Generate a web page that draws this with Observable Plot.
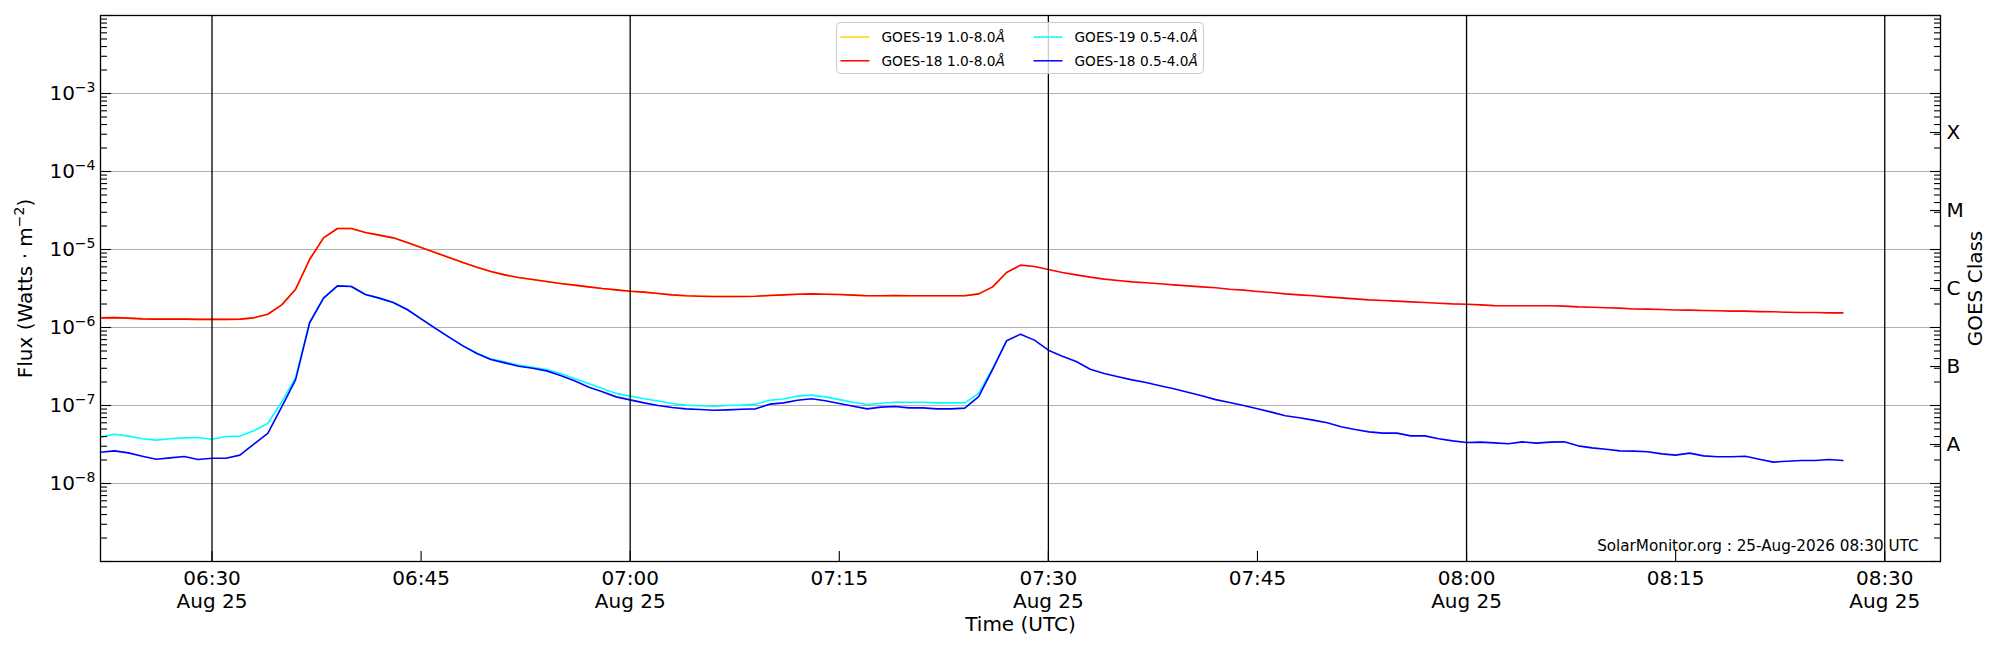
<!DOCTYPE html>
<html>
<head>
<meta charset="utf-8">
<script src="https://cdn.jsdelivr.net/npm/d3@7"></script>
<script src="https://cdn.jsdelivr.net/npm/@observablehq/plot@0.6"></script>
<style>
  html, body { margin: 0; padding: 0; background: #ffffff; }
  #chart { width: 2000px; height: 650px; }
</style>
</head>
<body>
<div id="chart"></div>
<script>
// ---------- data (1-minute samples starting 06:22 UTC, 25 Aug 2026) ----------
const startUTC = Date.UTC(2026, 7, 25, 6, 22);

const goes18Long = [
  1.33e-6, 1.34e-6, 1.32e-6, 1.29e-6, 1.28e-6, 1.28e-6, 1.28e-6, 1.27e-6, 1.27e-6, 1.27e-6,
  1.28e-6, 1.33e-6, 1.48e-6, 1.95e-6, 3.10e-6, 7.44e-6, 1.41e-5, 1.86e-5, 1.86e-5, 1.65e-5,
  1.53e-5, 1.41e-5, 1.23e-5, 1.06e-5, 9.16e-6, 7.89e-6, 6.81e-6, 5.94e-6, 5.22e-6, 4.73e-6,
  4.38e-6, 4.12e-6, 3.89e-6, 3.67e-6, 3.49e-6, 3.32e-6, 3.16e-6, 3.04e-6, 2.92e-6, 2.84e-6,
  2.73e-6, 2.62e-6, 2.55e-6, 2.52e-6, 2.50e-6, 2.50e-6, 2.50e-6, 2.52e-6, 2.57e-6, 2.62e-6,
  2.67e-6, 2.70e-6, 2.67e-6, 2.65e-6, 2.60e-6, 2.55e-6, 2.55e-6, 2.57e-6, 2.55e-6, 2.55e-6,
  2.55e-6, 2.55e-6, 2.55e-6, 2.70e-6, 3.32e-6, 5.07e-6, 6.30e-6, 6.05e-6, 5.54e-6, 5.07e-6,
  4.73e-6, 4.42e-6, 4.17e-6, 4.01e-6, 3.85e-6, 3.74e-6, 3.63e-6, 3.52e-6, 3.42e-6, 3.32e-6,
  3.23e-6, 3.10e-6, 3.01e-6, 2.90e-6, 2.81e-6, 2.70e-6, 2.62e-6, 2.55e-6, 2.47e-6, 2.40e-6,
  2.33e-6, 2.26e-6, 2.22e-6, 2.18e-6, 2.13e-6, 2.09e-6, 2.05e-6, 2.01e-6, 1.99e-6, 1.95e-6,
  1.91e-6, 1.90e-6, 1.90e-6, 1.90e-6, 1.90e-6, 1.88e-6, 1.84e-6, 1.82e-6, 1.79e-6, 1.77e-6,
  1.73e-6, 1.72e-6, 1.70e-6, 1.68e-6, 1.67e-6, 1.65e-6, 1.64e-6, 1.62e-6, 1.62e-6, 1.60e-6,
  1.59e-6, 1.57e-6, 1.56e-6, 1.56e-6, 1.54e-6, 1.54e-6
];

const goes18Short = [
  2.52e-8, 2.62e-8, 2.47e-8, 2.24e-8, 2.05e-8, 2.13e-8, 2.22e-8, 2.03e-8, 2.11e-8, 2.11e-8,
  2.31e-8, 3.19e-8, 4.38e-8, 9.62e-8, 2.15e-7, 1.15e-6, 2.38e-6, 3.42e-6, 3.36e-6, 2.65e-6,
  2.38e-6, 2.09e-6, 1.70e-6, 1.29e-6, 9.80e-7, 7.52e-7, 5.82e-7, 4.64e-7, 3.89e-7, 3.52e-7,
  3.19e-7, 3.01e-7, 2.78e-7, 2.43e-7, 2.07e-7, 1.73e-7, 1.50e-7, 1.29e-7, 1.18e-7, 1.08e-7,
  1.00e-7, 9.42e-8, 9.06e-8, 8.89e-8, 8.71e-8, 8.80e-8, 8.97e-8, 9.06e-8, 1.04e-7, 1.08e-7,
  1.17e-7, 1.22e-7, 1.15e-7, 1.06e-7, 9.80e-8, 9.06e-8, 9.53e-8, 9.71e-8, 9.33e-8, 9.33e-8,
  9.06e-8, 9.06e-8, 9.25e-8, 1.30e-7, 2.90e-7, 6.75e-7, 8.22e-7, 6.89e-7, 5.12e-7, 4.29e-7,
  3.66e-7, 2.92e-7, 2.57e-7, 2.33e-7, 2.13e-7, 1.97e-7, 1.79e-7, 1.64e-7, 1.48e-7, 1.33e-7,
  1.19e-7, 1.09e-7, 1.00e-7, 9.06e-8, 8.22e-8, 7.38e-8, 6.95e-8, 6.49e-8, 6.00e-8, 5.33e-8,
  4.92e-8, 4.59e-8, 4.42e-8, 4.42e-8, 4.08e-8, 4.08e-8, 3.74e-8, 3.52e-8, 3.36e-8, 3.39e-8,
  3.32e-8, 3.23e-8, 3.42e-8, 3.29e-8, 3.39e-8, 3.42e-8, 3.04e-8, 2.86e-8, 2.75e-8, 2.62e-8,
  2.60e-8, 2.55e-8, 2.40e-8, 2.31e-8, 2.45e-8, 2.26e-8, 2.20e-8, 2.20e-8, 2.24e-8, 2.05e-8,
  1.88e-8, 1.93e-8, 1.97e-8, 1.97e-8, 2.03e-8, 1.97e-8
];

const goes19Long = [
  1.33e-6, 1.34e-6, 1.32e-6, 1.29e-6, 1.28e-6, 1.28e-6, 1.28e-6, 1.27e-6, 1.27e-6, 1.27e-6,
  1.28e-6, 1.33e-6, 1.48e-6, 1.95e-6, 3.10e-6, 7.44e-6, 1.41e-5, 1.86e-5, 1.86e-5, 1.65e-5,
  1.53e-5, 1.41e-5, 1.23e-5, 1.06e-5, 9.16e-6, 7.89e-6, 6.81e-6, 5.94e-6, 5.22e-6, 4.73e-6,
  4.38e-6, 4.12e-6, 3.89e-6, 3.67e-6, 3.49e-6, 3.32e-6, 3.16e-6, 3.04e-6, 2.92e-6, 2.84e-6,
  2.73e-6, 2.62e-6, 2.55e-6, 2.52e-6, 2.50e-6, 2.50e-6, 2.50e-6, 2.52e-6, 2.57e-6, 2.62e-6,
  2.67e-6, 2.70e-6, 2.67e-6, 2.65e-6, 2.60e-6, 2.55e-6, 2.55e-6, 2.57e-6, 2.55e-6, 2.55e-6,
  2.55e-6, 2.55e-6, 2.55e-6, 2.70e-6, 3.32e-6, 5.07e-6
];

const goes19Short = [
  3.93e-8, 4.29e-8, 4.05e-8, 3.74e-8, 3.60e-8, 3.74e-8, 3.85e-8, 3.89e-8, 3.70e-8, 4.01e-8,
  4.05e-8, 4.73e-8, 5.87e-8, 1.11e-7, 2.29e-7, 1.15e-6, 2.38e-6, 3.42e-6, 3.36e-6, 2.65e-6,
  2.38e-6, 2.09e-6, 1.70e-6, 1.29e-6, 9.80e-7, 7.52e-7, 5.82e-7, 4.70e-7, 3.96e-7, 3.63e-7,
  3.29e-7, 3.10e-7, 2.90e-7, 2.57e-7, 2.22e-7, 1.91e-7, 1.65e-7, 1.43e-7, 1.32e-7, 1.22e-7,
  1.14e-7, 1.06e-7, 1.01e-7, 9.91e-8, 9.80e-8, 1.00e-7, 1.01e-7, 1.04e-7, 1.17e-7, 1.21e-7,
  1.32e-7, 1.36e-7, 1.29e-7, 1.19e-7, 1.10e-7, 1.03e-7, 1.07e-7, 1.10e-7, 1.10e-7, 1.10e-7,
  1.08e-7, 1.08e-7, 1.08e-7, 1.43e-7, 2.98e-7, 6.75e-7
];

const seriesNames  = ["GOES-19 1.0-8.0Å", "GOES-18 1.0-8.0Å", "GOES-19 0.5-4.0Å", "GOES-18 0.5-4.0Å"];
const seriesColors = ["#ffd700", "#ff0000", "#00ffff", "#0000ff"];
const seriesValues = [goes19Long, goes18Long, goes19Short, goes18Short];

const yTickExponents = [-8, -7, -6, -5, -4, -3];
const yDomainExponents = [-9, -2];
const classLabels = ["A", "B", "C", "M", "X"];
const classExponents = [-7.5, -6.5, -5.5, -4.5, -3.5];
const xTickLabels = ["06:30\nAug 25", "06:45", "07:00\nAug 25", "07:15", "07:30\nAug 25", "07:45", "08:00\nAug 25", "08:15", "08:30\nAug 25"];
const xDomainLabels = ["06:22", "08:34"];
const xLabel = "Time (UTC)";
const yLabel = "Flux (Watts · m^−2)";
const y2Label = "GOES Class";
const captionText = "SolarMonitor.org : 25-Aug-2026 08:30 UTC";

// ---------- helpers ----------
const hm = s => { const [h, m] = s.split("\n")[0].split(":").map(Number); return new Date(Date.UTC(2026, 7, 25, h, m)); };
const xTicks = xTickLabels.map(hm);
const xTickText = new Map(xTickLabels.map((l, i) => [+xTicks[i], l]));
const xHalfHours = xTicks.filter((d, i) => xTickLabels[i].includes("\n"));
const decades = d3.range(yDomainExponents[0], yDomainExponents[1] + 1).map(e => Math.pow(10, e));
const minorTicks = [];
for (let e = yDomainExponents[0]; e < yDomainExponents[1]; e++) for (let k = 2; k <= 9; k++) minorTicks.push(k * Math.pow(10, e));
const labelTicks = yTickExponents.map(e => Math.pow(10, e));
const classTicks = classExponents.map(e => Math.pow(10, e));

const rows = seriesValues.map((vals, s) => vals.map((v, i) => ({ time: new Date(startUTC + i * 60000), flux: v, series: seriesNames[s] })));

const W = 2000, H = 650;
const mL = 100, mR = 60, mT = 15, mB = 89;
const FONT = "DejaVu Sans, Liberation Sans, sans-serif";

const plot = Plot.plot({
  width: W, height: H,
  marginLeft: mL, marginRight: mR, marginTop: mT, marginBottom: mB,
  style: { fontFamily: FONT, fontSize: "20px", background: "#ffffff", color: "#000000", overflow: "visible" },
  x: { type: "utc", domain: xDomainLabels.map(hm) },
  y: { type: "log", domain: yDomainExponents.map(e => Math.pow(10, e)) },
  marks: [
    Plot.gridY(labelTicks, { stroke: "#b0b0b0", strokeOpacity: 1, strokeWidth: 1.2 }),
    ...rows.map((r, s) => Plot.line(r, { x: "time", y: "flux", stroke: seriesColors[s], strokeWidth: 1.6 })),
    Plot.ruleX(xHalfHours, { stroke: "#000000", strokeWidth: 1.3 }),
    Plot.frame({ stroke: "#000000", strokeWidth: 1.3 }),
    // inward ticks
    Plot.axisY(decades, { anchor: "left", tickSize: -11, tickFormat: () => "", label: null, strokeWidth: 1.1 }),
    Plot.axisY(minorTicks, { anchor: "left", tickSize: -7, tickFormat: () => "", label: null, strokeWidth: 1.1 }),
    Plot.axisY(decades, { anchor: "right", tickSize: -11, tickFormat: () => "", label: null, strokeWidth: 1.1 }),
    Plot.axisY(minorTicks, { anchor: "right", tickSize: -7, tickFormat: () => "", label: null, strokeWidth: 1.1 }),
    Plot.axisY(classTicks, { anchor: "right", tickSize: -11, tickFormat: () => "", label: null, strokeWidth: 1.1 }),
    Plot.axisX(xTicks, { anchor: "bottom", tickSize: -10, tickFormat: () => "", label: null, strokeWidth: 1.1 }),
    // tick labels
    Plot.axisY(labelTicks, { anchor: "left", tickSize: 0, tickPadding: 5, label: null, fontSize: 20,
      tickFormat: d => "10^" + String(Math.round(Math.log10(d))).replace("-", "−") }),
    Plot.axisX(xTicks, { anchor: "bottom", tickSize: 0, tickPadding: 7, label: null, fontSize: 20, lineHeight: 1.15,
      tickFormat: d => xTickText.get(+d) }),
    Plot.text(classLabels, { y: (d, i) => classTicks[i], frameAnchor: "right", dx: 6, textAnchor: "start", fontSize: 20 }),
    // axis titles & caption
    Plot.text([xLabel], { frameAnchor: "bottom", dy: 63, lineAnchor: "middle", textAnchor: "middle", fontSize: 20 }),
    Plot.text([yLabel], { frameAnchor: "left", dx: -75, rotate: -90, lineAnchor: "middle", textAnchor: "middle", fontSize: 20 }),
    Plot.text([y2Label], { frameAnchor: "right", dx: 35, rotate: -90, lineAnchor: "middle", textAnchor: "middle", fontSize: 20 }),
    Plot.text([captionText], { frameAnchor: "bottom-right", dx: -22, dy: -11, lineAnchor: "bottom", textAnchor: "end", fontSize: 15.2 })
  ]
});

// superscripts written as "base^exp"
d3.select(plot).selectAll("text").each(function () {
  const s = this.textContent;
  if (!s.includes("^")) return;
  const m = s.match(/^(.*)\^([−\-]?\d+)(.*)$/);
  if (!m) return;
  const t = d3.select(this);
  const fs = 20;
  t.text(null);
  t.append("tspan").text(m[1]);
  t.append("tspan").attr("dy", -0.42 * fs + "px").attr("font-size", 0.7 * fs + "px").text(m[2]);
  if (m[3]) t.append("tspan").attr("dy", 0.42 * fs + "px").text(m[3]);
});

// legend inside the frame, centred at the top
const svg = d3.select(plot);
const lgW = 367, lgH = 51;
const frameCx = mL + (W - mL - mR) / 2;
const lg = svg.append("g").attr("transform", `translate(${frameCx - lgW / 2},${mT + 7.5})`)
  .attr("font-family", FONT).attr("font-size", "13.7px").attr("text-anchor", "start");
lg.append("rect").attr("width", lgW).attr("height", lgH).attr("rx", 4)
  .attr("fill", "#ffffff").attr("fill-opacity", 0.8).attr("stroke", "#cccccc").attr("stroke-width", 1);
const cols = [4, 197], rowsY = [14.5, 38.3];
seriesNames.forEach((name, i) => {
  const cx = cols[Math.floor(i / 2)], cy = rowsY[i % 2];
  lg.append("line").attr("x1", cx).attr("x2", cx + 29).attr("y1", cy).attr("y2", cy)
    .attr("stroke", seriesColors[i]).attr("stroke-width", 1.5);
  const tx = lg.append("text").attr("x", cx + 41).attr("y", cy).attr("dy", "0.36em")
    .attr("fill", "#000").attr("text-anchor", "start");
  tx.append("tspan").text(name.slice(0, -1));
  tx.append("tspan").attr("font-style", "italic").text(name.slice(-1));
});

document.getElementById("chart").appendChild(plot);
</script>
</body>
</html>
